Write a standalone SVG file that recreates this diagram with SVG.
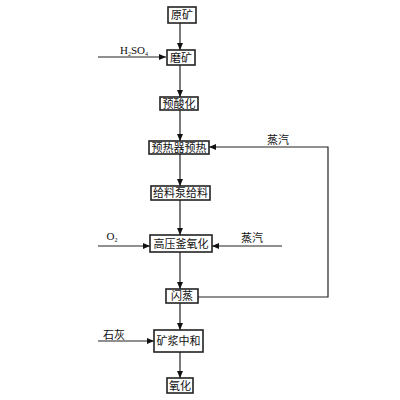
<svg xmlns="http://www.w3.org/2000/svg" width="400" height="400" viewBox="0 0 400 400">
<style>
.box{fill:#fff;stroke:#222;stroke-width:1.6}
.t{font-family:"Liberation Serif","Noto Sans CJK SC",serif;font-size:11px;fill:#111;text-anchor:middle;dominant-baseline:central}
.l{font-family:"Liberation Serif","Noto Sans CJK SC",serif;font-size:11px;fill:#111;text-anchor:middle}
.c{fill:none;stroke:#222;stroke-width:1.2}
</style>
<defs>
<marker id="a" markerWidth="8" markerHeight="8" refX="7" refY="4" orient="auto" markerUnits="userSpaceOnUse">
<path d="M0,1 L7,4 L0,7 Z" fill="#111"/>
</marker>
</defs>
<rect width="400" height="400" fill="#fff"/>
<g id="connectors">
<line class="c" x1="180" y1="23" x2="180" y2="50" marker-end="url(#a)"/>
<line class="c" x1="98" y1="57" x2="166" y2="57" marker-end="url(#a)"/>
<line class="c" x1="180" y1="65" x2="180" y2="97" marker-end="url(#a)"/>
<line class="c" x1="180" y1="110" x2="180" y2="141" marker-end="url(#a)"/>
<polyline class="c" points="198,297 328,297 328,147 209,147" marker-end="url(#a)"/>
<line class="c" x1="180" y1="154" x2="180" y2="186" marker-end="url(#a)"/>
<line class="c" x1="180" y1="200" x2="180" y2="235" marker-end="url(#a)"/>
<line class="c" x1="98" y1="246" x2="150" y2="246" marker-end="url(#a)"/>
<line class="c" x1="282" y1="246" x2="212" y2="246" marker-end="url(#a)"/>
<line class="c" x1="180" y1="252" x2="180" y2="289" marker-end="url(#a)"/>
<line class="c" x1="180" y1="303" x2="180" y2="330" marker-end="url(#a)"/>
<line class="c" x1="98" y1="341" x2="154" y2="341" marker-end="url(#a)"/>
<line class="c" x1="180" y1="352" x2="180" y2="378" marker-end="url(#a)"/>
<text class="l" x="134" y="54">H<tspan font-size="6" dy="2">2</tspan><tspan dy="-2">SO</tspan><tspan font-size="6" dy="2">4</tspan></text>
<text class="l" x="278" y="144">蒸汽</text>
<text class="l" x="112" y="240">O<tspan font-size="6" dy="2">2</tspan></text>
<text class="l" x="252" y="242">蒸汽</text>
<text class="l" x="114" y="339">石灰</text>
</g>
<g id="n1"><rect class="box" x="168" y="7" width="28" height="16"/><text class="t" x="182" y="15">原矿</text></g>
<g id="n2"><rect class="box" x="167" y="50" width="28" height="15"/><text class="t" x="181" y="57.5">磨矿</text></g>
<g id="n3"><rect class="box" x="160" y="97" width="38" height="13"/><text class="t" x="179" y="103.5">预酸化</text></g>
<g id="n4"><rect class="box" x="149" y="141" width="60" height="13"/><text class="t" x="179" y="147.5">预热器预热</text></g>
<g id="n5"><rect class="box" x="151" y="186" width="59" height="14"/><text class="t" x="180.5" y="193">给料泵给料</text></g>
<g id="n6"><rect class="box" x="150" y="235" width="62" height="17"/><text class="t" x="181" y="243.5">高压釜氧化</text></g>
<g id="n7"><rect class="box" x="166" y="289" width="32" height="14"/><text class="t" x="182" y="296">闪蒸</text></g>
<g id="n8"><rect class="box" x="154" y="330" width="49" height="22"/><text class="t" x="178.5" y="341">矿浆中和</text></g>
<g id="n9"><rect class="box" x="167" y="378" width="26" height="15"/><text class="t" x="180" y="385.5">氧化</text></g>
</svg>
